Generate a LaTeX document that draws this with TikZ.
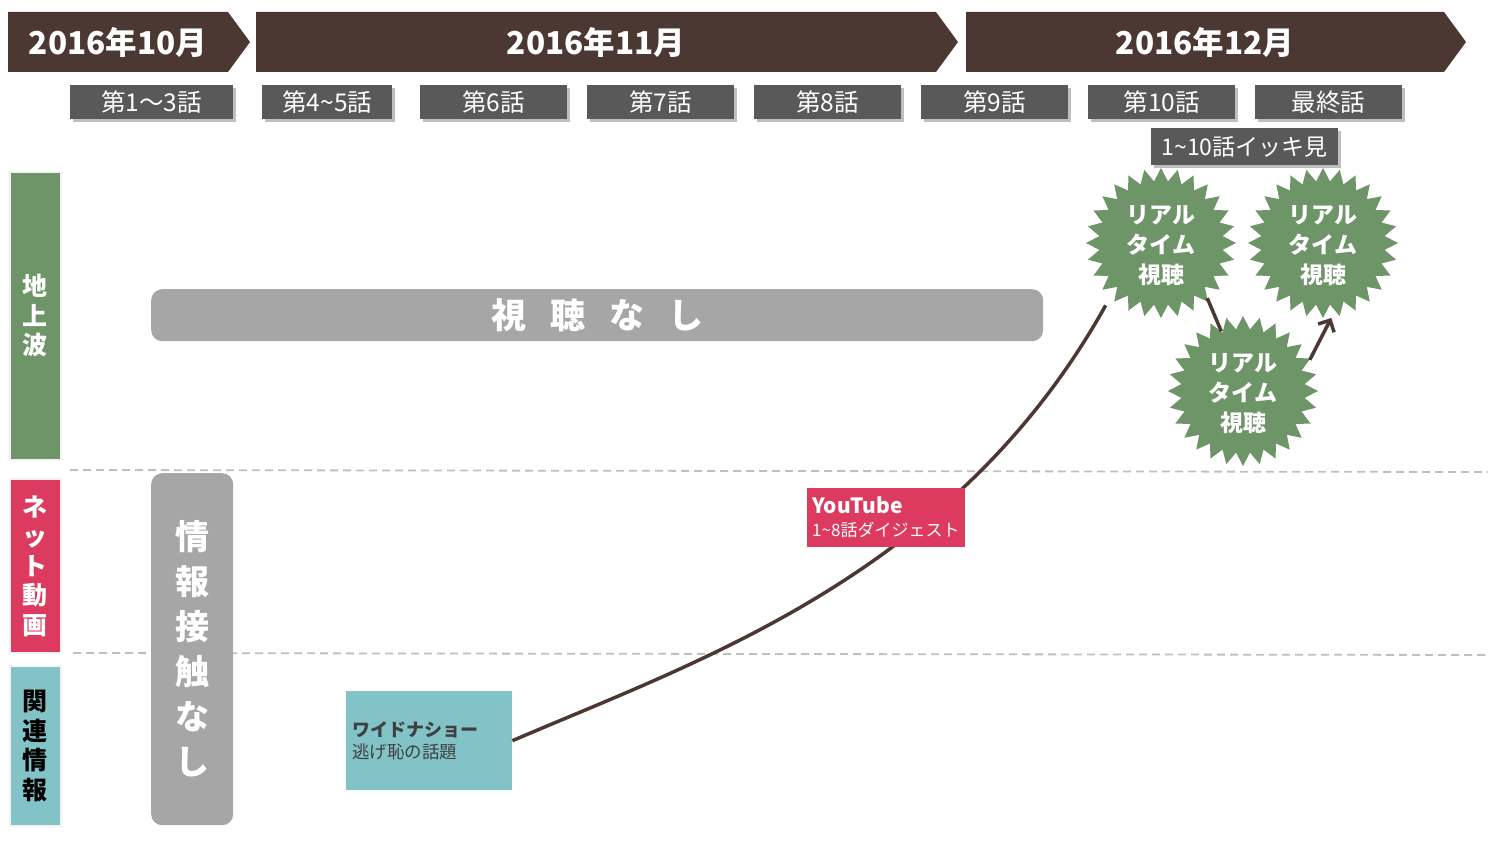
\documentclass[tikz,border=0pt]{standalone}
\usepackage{fontspec}
\setmainfont{Noto Sans CJK JP}
\newfontfamily\jp{Noto Sans CJK JP}
\usetikzlibrary{shapes.geometric,shadows,arrows.meta}
\definecolor{brn}{HTML}{4B3832}
\definecolor{epgray}{HTML}{595959}
\definecolor{grn}{HTML}{6E9568}
\definecolor{rd}{HTML}{DC3A5E}
\definecolor{tl}{HTML}{82C3C8}
\definecolor{barg}{HTML}{A6A6A6}
\definecolor{dash}{HTML}{BFBFBF}
\definecolor{dk}{HTML}{3F3F3F}
\tikzset{
  monthtxt/.style={text=white,font={\jp\bfseries\fontsize{31.5}{34}\selectfont}},
  ep/.style={fill=epgray,text=white,minimum height=34,inner sep=0,anchor=north west,
    font={\jp\fontsize{24.5}{26}\selectfont},
    drop shadow={shadow xshift=3pt,shadow yshift=-3pt,fill=black,opacity=0.25}},
  lanebox/.style={draw=black!5,line width=2,minimum width=51,inner sep=0,anchor=north west,align=center,
    font={\jp\bfseries\fontsize{25}{29.5}\selectfont}},
  sep/.style={draw=dash,line width=1.8,dash pattern=on 8pt off 5pt},
  bar/.style={fill=barg,rounded corners=11,inner sep=0,anchor=north west,text=white},
  burst/.style={star,star points=28,star point ratio=1.21,minimum size=150,fill=grn,inner sep=0},
  bursttxt/.style={text=white,align=center,font={\jp\bfseries\fontsize{23}{30}\selectfont}},
  flow/.style={draw=brn,line width=3.5},
}
\begin{document}
\begin{tikzpicture}[x=1pt,y=-1pt]
\useasboundingbox (0,0) rectangle (1488,850);
% month chevrons
\fill[brn] (8,12) -- (228,12) -- (250,42) -- (228,72) -- (8,72) -- cycle;
\fill[brn] (256,12) -- (936,12) -- (958,42) -- (936,72) -- (256,72) -- cycle;
\fill[brn] (966,12) -- (1444,12) -- (1466,42) -- (1444,72) -- (966,72) -- cycle;
\node[monthtxt] (m10) at (118,42) {2016年10月};
\node[monthtxt] (m11) at (596,42) {2016年11月};
\node[monthtxt] (m12) at (1205,42) {2016年12月};
% episodes
\node[ep,minimum width=163] (e1) at (70,85) {第1～3話};
\node[ep,minimum width=130] (e2) at (262,85) {第4\textasciitilde5話};
\node[ep,minimum width=147] (e3) at (420,85) {第6話};
\node[ep,minimum width=147] (e4) at (587,85) {第7話};
\node[ep,minimum width=147] (e5) at (754,85) {第8話};
\node[ep,minimum width=147] (e6) at (921,85) {第9話};
\node[ep,minimum width=147] (e7) at (1088,85) {第10話};
\node[ep,minimum width=147] (e8) at (1255,85) {最終話};
\node[ep,minimum width=187,minimum height=37,font={\jp\fontsize{23}{25}\selectfont}] (e9) at (1151,128) {1\textasciitilde10話イッキ見};
% lane labels
\node[lanebox,fill=grn,text=white,minimum height=288] (l1) at (9,171) {地\\上\\波};
\node[lanebox,fill=rd,text=white,minimum height=174] (l2) at (9,478) {ネ\\ッ\\ト\\動\\画};
\node[lanebox,fill=tl,text=black,minimum height=160] (l3) at (9,665) {関\\連\\情\\報};
% separators
\coordinate (d1a) at (70,470); \coordinate (d1b) at (1488,472);
\coordinate (d2a) at (73,653); \coordinate (d2b) at (1488,655);
\draw[sep] (d1a) -- (d1b);
\draw[sep] (d2a) -- (d2b);
% gray bars
\node[bar,minimum width=892,minimum height=52,font={\jp\bfseries\fontsize{35}{38}\selectfont}] (nv) at (151,289) {\spaceskip=24pt 視 聴 な し};
\node[bar,minimum width=82,minimum height=352,align=center,font={\jp\bfseries\fontsize{34}{45}\selectfont}] (ni) at (151,473) {情\\報\\接\\触\\な\\し};
% stars
\node[burst] (s1) at (1161,243) {};
\node[burst] (s2) at (1323,243) {};
% teal box
\node[fill=tl,minimum width=166,minimum height=99,inner sep=6,text width=154,align=left,anchor=north west,
  text=dk,font={\jp\fontsize{17.5}{22}\selectfont}] (wide) at (346,691)
  {{\bfseries\fontsize{18}{22}\selectfont ワイドナショー}\\逃げ恥の話題};
% main curve
\draw[flow] (wide.east) .. controls (700,660) and (955,575) .. ([shift={(-10,12)}]s1.228);
% youtube box
\node[fill=rd,minimum width=154,minimum height=59,inner sep=5,text width=148,align=left,anchor=north west,text=white,
  font={\jp\fontsize{17}{23}\selectfont}] (yt) at (807,488)
  {{\bfseries\fontsize{21}{23}\selectfont YouTube}\\1\textasciitilde8話ダイジェスト};
\node[burst] (s3) at (1243,391) {};
\draw[flow] (s1.-50) -- (s3.110);
\draw[flow,-{Straight Barb[length=9pt,width=18pt]},shorten >=8pt] (s3.25) -- (s2.-80);
\node[bursttxt] (t1) at ([yshift=-3]s1) {リアル\\タイム\\視聴};
\node[bursttxt] (t2) at ([yshift=-3]s2) {リアル\\タイム\\視聴};
\node[bursttxt] (t3) at ([yshift=-3]s3) {リアル\\タイム\\視聴};
\end{tikzpicture}
\end{document}
